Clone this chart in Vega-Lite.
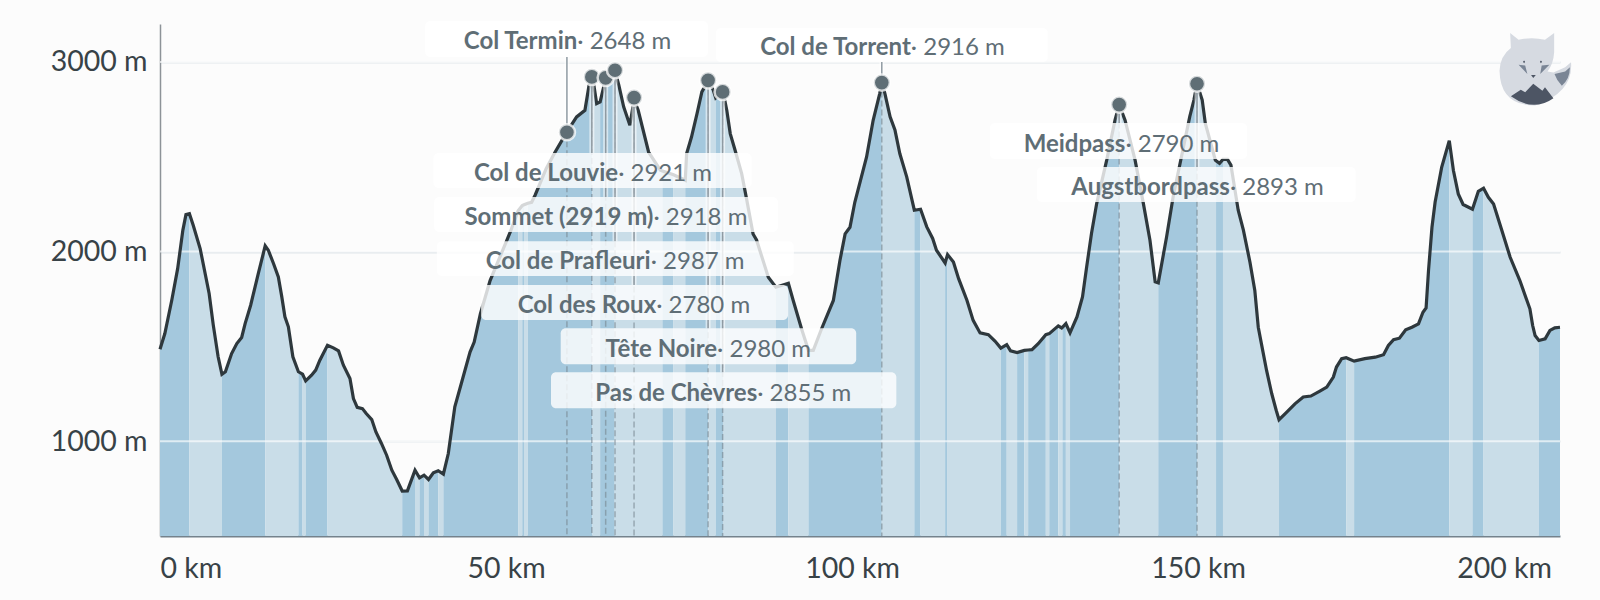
{
  "$schema": "https://vega.github.io/schema/vega-lite/v6.json",
  "width": 1400,
  "height": 512,
  "autosize": "none",
  "padding": {"left": 160, "top": 24, "right": 40, "bottom": 64},
  "background": "#fcfcfc",
  "datasets": {
    "profile": [
      {"km":0,"m":1485,"seg":1,"dir":"up"},{"km":0.7,"m":1568,"seg":1,"dir":"up"},{"km":1.7,"m":1743,"seg":1,"dir":"up"},{"km":2.55,"m":1910,"seg":1,"dir":"up"},{"km":3.3,"m":2112,"seg":1,"dir":"up"},{"km":3.75,"m":2195,"seg":1,"dir":"up"},{"km":4.25,"m":2200,"seg":1,"dir":"up"},
      {"km":4.25,"m":2200,"seg":2,"dir":"down"},{"km":4.8,"m":2139,"seg":2,"dir":"down"},{"km":5.8,"m":2016,"seg":2,"dir":"down"},{"km":7.1,"m":1779,"seg":2,"dir":"down"},{"km":7.7,"m":1612,"seg":2,"dir":"down"},{"km":8.4,"m":1445,"seg":2,"dir":"down"},{"km":8.95,"m":1353,"seg":2,"dir":"down"},
      {"km":8.95,"m":1353,"seg":3,"dir":"up"},{"km":9.45,"m":1366,"seg":3,"dir":"up"},{"km":10.35,"m":1462,"seg":3,"dir":"up"},{"km":11.1,"m":1515,"seg":3,"dir":"up"},{"km":11.8,"m":1547,"seg":3,"dir":"up"},{"km":12.3,"m":1620,"seg":3,"dir":"up"},{"km":13.1,"m":1717,"seg":3,"dir":"up"},{"km":14.2,"m":1884,"seg":3,"dir":"up"},{"km":15.2,"m":2030,"seg":3,"dir":"up"},
      {"km":15.2,"m":2030,"seg":4,"dir":"down"},{"km":15.65,"m":2007,"seg":4,"dir":"down"},{"km":16.4,"m":1937,"seg":4,"dir":"down"},{"km":17.1,"m":1866,"seg":4,"dir":"down"},{"km":17.6,"m":1761,"seg":4,"dir":"down"},{"km":18.05,"m":1656,"seg":4,"dir":"down"},{"km":18.55,"m":1603,"seg":4,"dir":"down"},{"km":19.2,"m":1445,"seg":4,"dir":"down"},{"km":20,"m":1366,"seg":4,"dir":"down"},
      {"km":20,"m":1366,"seg":5,"dir":"up"},{"km":20.6,"m":1353,"seg":5,"dir":"up"},
      {"km":20.6,"m":1353,"seg":6,"dir":"down"},{"km":21.05,"m":1318,"seg":6,"dir":"down"},
      {"km":21.05,"m":1318,"seg":7,"dir":"up"},{"km":21.9,"m":1348,"seg":7,"dir":"up"},{"km":22.5,"m":1375,"seg":7,"dir":"up"},{"km":23.1,"m":1427,"seg":7,"dir":"up"},{"km":24.2,"m":1506,"seg":7,"dir":"up"},
      {"km":24.2,"m":1506,"seg":8,"dir":"down"},{"km":25.05,"m":1492,"seg":8,"dir":"down"},{"km":25.8,"m":1476,"seg":8,"dir":"down"},{"km":26.5,"m":1401,"seg":8,"dir":"down"},{"km":27.45,"m":1331,"seg":8,"dir":"down"},{"km":27.95,"m":1225,"seg":8,"dir":"down"},{"km":28.5,"m":1178,"seg":8,"dir":"down"},{"km":29.25,"m":1172,"seg":8,"dir":"down"},{"km":29.8,"m":1146,"seg":8,"dir":"down"},{"km":30.6,"m":1114,"seg":8,"dir":"down"},{"km":31.2,"m":1049,"seg":8,"dir":"down"},{"km":32,"m":988,"seg":8,"dir":"down"},{"km":32.75,"m":926,"seg":8,"dir":"down"},{"km":33.5,"m":847,"seg":8,"dir":"down"},{"km":34.2,"m":798,"seg":8,"dir":"down"},{"km":35,"m":737,"seg":8,"dir":"down"},
      {"km":35,"m":737,"seg":9,"dir":"up"},{"km":35.75,"m":738,"seg":9,"dir":"up"},{"km":36.85,"m":847,"seg":9,"dir":"up"},
      {"km":36.85,"m":847,"seg":10,"dir":"down"},{"km":37.5,"m":807,"seg":10,"dir":"down"},
      {"km":37.5,"m":807,"seg":11,"dir":"up"},{"km":38.15,"m":821,"seg":11,"dir":"up"},
      {"km":38.15,"m":821,"seg":12,"dir":"down"},{"km":38.8,"m":798,"seg":12,"dir":"down"},
      {"km":38.8,"m":798,"seg":13,"dir":"up"},{"km":39.5,"m":833,"seg":13,"dir":"up"},{"km":40.2,"m":844,"seg":13,"dir":"up"},
      {"km":40.2,"m":844,"seg":14,"dir":"down"},{"km":40.95,"m":826,"seg":14,"dir":"down"},
      {"km":40.95,"m":826,"seg":15,"dir":"up"},{"km":41.66,"m":935,"seg":15,"dir":"up"},{"km":42.6,"m":1181,"seg":15,"dir":"up"},{"km":43.6,"m":1312,"seg":15,"dir":"up"},{"km":44.8,"m":1470,"seg":15,"dir":"up"},{"km":45.4,"m":1523,"seg":15,"dir":"up"},{"km":46.3,"m":1672,"seg":15,"dir":"up"},{"km":47.7,"m":1847,"seg":15,"dir":"up"},{"km":50.1,"m":2058,"seg":15,"dir":"up"},{"km":50.6,"m":2102,"seg":15,"dir":"up"},{"km":51.75,"m":2215,"seg":15,"dir":"up"},
      {"km":51.75,"m":2215,"seg":16,"dir":"down"},{"km":52.35,"m":2243,"seg":16,"dir":"down"},
      {"km":52.35,"m":2243,"seg":17,"dir":"up"},{"km":52.6,"m":2247,"seg":17,"dir":"up"},
      {"km":52.6,"m":2247,"seg":18,"dir":"down"},{"km":53.15,"m":2255,"seg":18,"dir":"down"},
      {"km":53.15,"m":2255,"seg":19,"dir":"up"},{"km":53.7,"m":2260,"seg":19,"dir":"up"},{"km":54.2,"m":2297,"seg":19,"dir":"up"},{"km":55.8,"m":2437,"seg":19,"dir":"up"},{"km":57.1,"m":2525,"seg":19,"dir":"up"},{"km":58.8,"m":2631,"seg":19,"dir":"up"},{"km":60.2,"m":2710,"seg":19,"dir":"up"},{"km":61.4,"m":2745,"seg":19,"dir":"up"},{"km":62,"m":2877,"seg":19,"dir":"up"},{"km":62.5,"m":2925,"seg":19,"dir":"up"},
      {"km":62.5,"m":2925,"seg":20,"dir":"down"},{"km":63.1,"m":2780,"seg":20,"dir":"down"},{"km":63.6,"m":2789,"seg":20,"dir":"down"},
      {"km":63.6,"m":2789,"seg":21,"dir":"up"},{"km":64.4,"m":2912,"seg":21,"dir":"up"},{"km":65,"m":2925,"seg":21,"dir":"up"},{"km":65.7,"m":2958,"seg":21,"dir":"up"},
      {"km":65.7,"m":2958,"seg":22,"dir":"down"},{"km":66.3,"m":2877,"seg":22,"dir":"down"},{"km":67,"m":2763,"seg":22,"dir":"down"},{"km":67.9,"m":2666,"seg":22,"dir":"down"},{"km":68.5,"m":2800,"seg":22,"dir":"down"},{"km":69.1,"m":2745,"seg":22,"dir":"down"},{"km":70.6,"m":2525,"seg":22,"dir":"down"},{"km":72.3,"m":2429,"seg":22,"dir":"down"},{"km":72.6,"m":2425,"seg":22,"dir":"down"},
      {"km":72.6,"m":2425,"seg":23,"dir":"up"},{"km":74.2,"m":2405,"seg":23,"dir":"up"},
      {"km":74.2,"m":2405,"seg":24,"dir":"down"},{"km":75.9,"m":2376,"seg":24,"dir":"down"},
      {"km":75.9,"m":2376,"seg":25,"dir":"up"},{"km":76.1,"m":2517,"seg":25,"dir":"up"},{"km":76.8,"m":2604,"seg":25,"dir":"up"},{"km":77.6,"m":2727,"seg":25,"dir":"up"},{"km":78.3,"m":2842,"seg":25,"dir":"up"},{"km":79.25,"m":2905,"seg":25,"dir":"up"},
      {"km":79.25,"m":2905,"seg":26,"dir":"down"},{"km":79.95,"m":2851,"seg":26,"dir":"down"},{"km":80.3,"m":2810,"seg":26,"dir":"down"},
      {"km":80.3,"m":2810,"seg":27,"dir":"up"},{"km":81.35,"m":2845,"seg":27,"dir":"up"},
      {"km":81.35,"m":2845,"seg":28,"dir":"down"},{"km":81.9,"m":2745,"seg":28,"dir":"down"},{"km":82.4,"m":2622,"seg":28,"dir":"down"},{"km":83.1,"m":2534,"seg":28,"dir":"down"},{"km":84.05,"m":2411,"seg":28,"dir":"down"},{"km":84.8,"m":2270,"seg":28,"dir":"down"},{"km":85.7,"m":2093,"seg":28,"dir":"down"},{"km":86.2,"m":2061,"seg":28,"dir":"down"},{"km":87.9,"m":1865,"seg":28,"dir":"down"},{"km":89,"m":1812,"seg":28,"dir":"down"},
      {"km":89,"m":1812,"seg":29,"dir":"up"},{"km":90.8,"m":1833,"seg":29,"dir":"up"},
      {"km":90.8,"m":1833,"seg":30,"dir":"down"},{"km":91.5,"m":1742,"seg":30,"dir":"down"},{"km":92.7,"m":1593,"seg":30,"dir":"down"},{"km":93.7,"m":1479,"seg":30,"dir":"down"},
      {"km":93.7,"m":1479,"seg":31,"dir":"up"},{"km":94.4,"m":1479,"seg":31,"dir":"up"},{"km":95.6,"m":1593,"seg":31,"dir":"up"},{"km":97.3,"m":1742,"seg":31,"dir":"up"},{"km":98.25,"m":1953,"seg":31,"dir":"up"},{"km":99,"m":2093,"seg":31,"dir":"up"},{"km":99.7,"m":2128,"seg":31,"dir":"up"},{"km":100.4,"m":2260,"seg":31,"dir":"up"},{"km":102.1,"m":2499,"seg":31,"dir":"up"},{"km":103.05,"m":2692,"seg":31,"dir":"up"},{"km":104,"m":2833,"seg":31,"dir":"up"},{"km":104.3,"m":2891,"seg":31,"dir":"up"},
      {"km":104.3,"m":2891,"seg":32,"dir":"down"},{"km":104.75,"m":2833,"seg":32,"dir":"down"},{"km":105.5,"m":2711,"seg":32,"dir":"down"},{"km":106.2,"m":2641,"seg":32,"dir":"down"},{"km":106.9,"m":2517,"seg":32,"dir":"down"},{"km":107.9,"m":2394,"seg":32,"dir":"down"},{"km":109,"m":2218,"seg":32,"dir":"down"},
      {"km":109,"m":2218,"seg":33,"dir":"up"},{"km":109.9,"m":2223,"seg":33,"dir":"up"},
      {"km":109.9,"m":2223,"seg":34,"dir":"down"},{"km":110.8,"m":2130,"seg":34,"dir":"down"},{"km":111.65,"m":2069,"seg":34,"dir":"down"},{"km":112.2,"m":2007,"seg":34,"dir":"down"},{"km":113.45,"m":1940,"seg":34,"dir":"down"},
      {"km":113.45,"m":1940,"seg":35,"dir":"up"},{"km":113.8,"m":1984,"seg":35,"dir":"up"},
      {"km":113.8,"m":1984,"seg":36,"dir":"down"},{"km":114.65,"m":1945,"seg":36,"dir":"down"},{"km":115.4,"m":1857,"seg":36,"dir":"down"},{"km":116.6,"m":1743,"seg":36,"dir":"down"},{"km":117.5,"m":1637,"seg":36,"dir":"down"},{"km":118.5,"m":1571,"seg":36,"dir":"down"},{"km":119.7,"m":1562,"seg":36,"dir":"down"},{"km":120.65,"m":1528,"seg":36,"dir":"down"},{"km":121.5,"m":1491,"seg":36,"dir":"down"},
      {"km":121.5,"m":1491,"seg":37,"dir":"up"},{"km":122.35,"m":1509,"seg":37,"dir":"up"},
      {"km":122.35,"m":1509,"seg":38,"dir":"down"},{"km":122.9,"m":1476,"seg":38,"dir":"down"},{"km":123.85,"m":1467,"seg":38,"dir":"down"},
      {"km":123.85,"m":1467,"seg":39,"dir":"up"},{"km":124.9,"m":1479,"seg":39,"dir":"up"},
      {"km":124.9,"m":1479,"seg":40,"dir":"down"},{"km":125.45,"m":1481,"seg":40,"dir":"down"},
      {"km":125.45,"m":1481,"seg":41,"dir":"up"},{"km":126,"m":1483,"seg":41,"dir":"up"},{"km":126.9,"m":1514,"seg":41,"dir":"up"},{"km":128,"m":1562,"seg":41,"dir":"up"},
      {"km":128,"m":1562,"seg":42,"dir":"down"},{"km":128.5,"m":1567,"seg":42,"dir":"down"},
      {"km":128.5,"m":1567,"seg":43,"dir":"up"},{"km":129.8,"m":1608,"seg":43,"dir":"up"},
      {"km":129.8,"m":1608,"seg":44,"dir":"down"},{"km":130.3,"m":1597,"seg":44,"dir":"down"},{"km":130.4,"m":1600,"seg":44,"dir":"down"},
      {"km":130.4,"m":1600,"seg":45,"dir":"up"},{"km":130.9,"m":1620,"seg":45,"dir":"up"},
      {"km":130.9,"m":1620,"seg":46,"dir":"down"},{"km":131.5,"m":1571,"seg":46,"dir":"down"},
      {"km":131.5,"m":1571,"seg":47,"dir":"up"},{"km":132.5,"m":1655,"seg":47,"dir":"up"},{"km":133.3,"m":1761,"seg":47,"dir":"up"},{"km":133.9,"m":1919,"seg":47,"dir":"up"},{"km":134.6,"m":2095,"seg":47,"dir":"up"},{"km":135.35,"m":2253,"seg":47,"dir":"up"},{"km":136.8,"m":2482,"seg":47,"dir":"up"},{"km":138,"m":2693,"seg":47,"dir":"up"},{"km":138.6,"m":2775,"seg":47,"dir":"up"},
      {"km":138.6,"m":2775,"seg":48,"dir":"down"},{"km":139.45,"m":2693,"seg":48,"dir":"down"},{"km":140.9,"m":2482,"seg":48,"dir":"down"},{"km":142.1,"m":2253,"seg":48,"dir":"down"},{"km":143.05,"m":2060,"seg":48,"dir":"down"},{"km":143.8,"m":1840,"seg":48,"dir":"down"},{"km":144.25,"m":1835,"seg":48,"dir":"down"},
      {"km":144.25,"m":1835,"seg":49,"dir":"up"},{"km":145.45,"m":2077,"seg":49,"dir":"up"},{"km":146.4,"m":2289,"seg":49,"dir":"up"},{"km":147.6,"m":2500,"seg":49,"dir":"up"},{"km":148.8,"m":2711,"seg":49,"dir":"up"},{"km":149.4,"m":2799,"seg":49,"dir":"up"},{"km":149.85,"m":2885,"seg":49,"dir":"up"},
      {"km":149.85,"m":2885,"seg":50,"dir":"down"},{"km":150.6,"m":2799,"seg":50,"dir":"down"},{"km":151.05,"m":2676,"seg":50,"dir":"down"},{"km":152.5,"m":2482,"seg":50,"dir":"down"},{"km":152.6,"m":2478,"seg":50,"dir":"down"},
      {"km":152.6,"m":2478,"seg":51,"dir":"up"},{"km":153.1,"m":2465,"seg":51,"dir":"up"},{"km":153.6,"m":2486,"seg":51,"dir":"up"},
      {"km":153.6,"m":2486,"seg":52,"dir":"down"},{"km":154.25,"m":2486,"seg":52,"dir":"down"},{"km":154.75,"m":2456,"seg":52,"dir":"down"},{"km":155.8,"m":2218,"seg":52,"dir":"down"},{"km":156.55,"m":2113,"seg":52,"dir":"down"},{"km":157.5,"m":1944,"seg":52,"dir":"down"},{"km":158.2,"m":1795,"seg":52,"dir":"down"},{"km":158.7,"m":1601,"seg":52,"dir":"down"},{"km":159.2,"m":1505,"seg":52,"dir":"down"},{"km":159.9,"m":1373,"seg":52,"dir":"down"},{"km":160.65,"m":1250,"seg":52,"dir":"down"},{"km":161.3,"m":1162,"seg":52,"dir":"down"},{"km":161.7,"m":1113,"seg":52,"dir":"down"},
      {"km":161.7,"m":1113,"seg":53,"dir":"up"},{"km":162.6,"m":1145,"seg":53,"dir":"up"},{"km":164,"m":1197,"seg":53,"dir":"up"},{"km":165.2,"m":1233,"seg":53,"dir":"up"},{"km":166.3,"m":1238,"seg":53,"dir":"up"},{"km":167.6,"m":1264,"seg":53,"dir":"up"},{"km":168.6,"m":1285,"seg":53,"dir":"up"},{"km":169.55,"m":1338,"seg":53,"dir":"up"},{"km":170,"m":1391,"seg":53,"dir":"up"},{"km":170.75,"m":1435,"seg":53,"dir":"up"},{"km":171.4,"m":1440,"seg":53,"dir":"up"},
      {"km":171.4,"m":1440,"seg":54,"dir":"down"},{"km":172.55,"m":1422,"seg":54,"dir":"down"},
      {"km":172.55,"m":1422,"seg":55,"dir":"up"},{"km":174.1,"m":1435,"seg":55,"dir":"up"},{"km":175.6,"m":1443,"seg":55,"dir":"up"},{"km":176.8,"m":1456,"seg":55,"dir":"up"},{"km":177.5,"m":1505,"seg":55,"dir":"up"},{"km":178.25,"m":1535,"seg":55,"dir":"up"},{"km":179.1,"m":1543,"seg":55,"dir":"up"},{"km":180,"m":1587,"seg":55,"dir":"up"},{"km":180.9,"m":1601,"seg":55,"dir":"up"},{"km":181.85,"m":1619,"seg":55,"dir":"up"},{"km":182.5,"m":1680,"seg":55,"dir":"up"},{"km":182.95,"m":1703,"seg":55,"dir":"up"},{"km":183.3,"m":1900,"seg":55,"dir":"up"},{"km":183.8,"m":2128,"seg":55,"dir":"up"},{"km":184.25,"m":2260,"seg":55,"dir":"up"},{"km":185.2,"m":2444,"seg":55,"dir":"up"},{"km":186.3,"m":2585,"seg":55,"dir":"up"},
      {"km":186.3,"m":2585,"seg":56,"dir":"down"},{"km":186.9,"m":2427,"seg":56,"dir":"down"},{"km":187.6,"m":2304,"seg":56,"dir":"down"},{"km":188.3,"m":2248,"seg":56,"dir":"down"},{"km":189.65,"m":2223,"seg":56,"dir":"down"},
      {"km":189.65,"m":2223,"seg":57,"dir":"up"},{"km":190.5,"m":2318,"seg":57,"dir":"up"},{"km":191.25,"m":2334,"seg":57,"dir":"up"},
      {"km":191.25,"m":2334,"seg":58,"dir":"down"},{"km":191.95,"m":2286,"seg":58,"dir":"down"},{"km":192.7,"m":2251,"seg":58,"dir":"down"},{"km":193.9,"m":2111,"seg":58,"dir":"down"},{"km":195.1,"m":1970,"seg":58,"dir":"down"},{"km":196.5,"m":1847,"seg":58,"dir":"down"},{"km":197.95,"m":1698,"seg":58,"dir":"down"},{"km":198.35,"m":1610,"seg":58,"dir":"down"},{"km":198.7,"m":1557,"seg":58,"dir":"down"},{"km":199.25,"m":1531,"seg":58,"dir":"down"},
      {"km":199.25,"m":1531,"seg":59,"dir":"up"},{"km":200.15,"m":1540,"seg":59,"dir":"up"},{"km":200.85,"m":1584,"seg":59,"dir":"up"},{"km":201.55,"m":1598,"seg":59,"dir":"up"},{"km":202.3,"m":1601,"seg":59,"dir":"up"}
    ],
    "passes": [
      {"km":58.8,"m":2629,"name":"Col Termin","value":"· 2648 m","edge":3026,"from":38.3,"to":79.2,"top":3216,"bottom":3026,"label_km":60.3,"label_m":3121},
      {"km":62.4,"m":2921,"name":"Col de Louvie","value":"· 2921 m","edge":2520,"from":39.5,"to":85.5,"top":2520,"bottom":2335,"label_km":66.2,"label_m":2427},
      {"km":64.4,"m":2916,"name":"Sommet (2919 m)","value":"· 2918 m","edge":2288,"from":39.6,"to":89.3,"top":2288,"bottom":2103,"label_km":71.3,"label_m":2195},
      {"km":65.75,"m":2956,"name":"Col de Prafleuri","value":"· 2987 m","edge":2055,"from":40,"to":91.6,"top":2055,"bottom":1871,"label_km":70.9,"label_m":1963},
      {"km":68.5,"m":2812,"name":"Col des Roux","value":"· 2780 m","edge":1823,"from":46.4,"to":90.75,"top":1823,"bottom":1639,"label_km":71.7,"label_m":1731},
      {"km":79.2,"m":2903,"name":"Tête Noire","value":"· 2980 m","edge":1596,"from":57.9,"to":100.6,"top":1596,"bottom":1406,"label_km":80.5,"label_m":1501},
      {"km":81.3,"m":2842,"name":"Pas de Chèvres","value":"· 2855 m","edge":1364,"from":56.5,"to":106.4,"top":1364,"bottom":1174,"label_km":86.3,"label_m":1269},
      {"km":104.3,"m":2891,"name":"Col de Torrent","value":"· 2916 m","edge":3000,"from":80.3,"to":128.3,"top":3179,"bottom":3000,"label_km":108.5,"label_m":3090},
      {"km":138.6,"m":2775,"name":"Meidpass","value":"· 2790 m","edge":2678,"from":119.9,"to":157.1,"top":2678,"bottom":2488,"label_km":139.5,"label_m":2583},
      {"km":149.85,"m":2885,"name":"Augstbordpass","value":"· 2893 m","edge":2446,"from":126.7,"to":172.8,"top":2446,"bottom":2261,"label_km":154.6,"label_m":2354}
    ],
    "gridlines": [{"m":1000},{"m":2000},{"m":3000}],
    "logo": [{"km":198.7,"m":2954}]
  },
  "encoding": {
    "x": {
      "field": "km",
      "type": "quantitative",
      "scale": {"domain": [0, 202.3], "nice": false},
      "axis": {
        "title": null,
        "values": [0, 50, 100, 150, 200],
        "labelExpr": "datum.value + ' km'",
        "labelFlush": true,
        "labelOffset": {"condition": {"test": "datum.value == 200", "value": -40}, "value": 0},
        "labelFont": "Lato",
        "labelFontSize": 28.5,
        "labelColor": "#384247",
        "labelPadding": 18,
        "ticks": false,
        "grid": false,
        "domainColor": "#74828c",
        "domainWidth": 2
      }
    },
    "y": {
      "field": "m",
      "type": "quantitative",
      "scale": {"domain": [500, 3200], "nice": false, "zero": false},
      "axis": {
        "title": null,
        "values": [1000, 2000, 3000],
        "labelExpr": "datum.value + ' m'",
        "labelFont": "Lato",
        "labelFontSize": 28.5,
        "labelColor": "#384247",
        "labelPadding": 13,
        "ticks": false,
        "grid": true,
        "gridColor": "#dfe5e9",
        "gridWidth": 2,
        "domainColor": "#8d9398",
        "domainWidth": 1.5
      }
    }
  },
  "layer": [
    {
      "data": {"name": "profile"},
      "mark": {"type": "area"},
      "encoding": {
        "y": {"field": "m", "type": "quantitative", "stack": null, "scale": {"domain": [500, 3200], "nice": false, "zero": false}},
        "detail": {"field": "seg"},
        "color": {"field": "dir", "type": "nominal", "legend": null, "scale": {"domain": ["up", "down"], "range": ["#a4c8dd", "#c9dde8"]}}
      }
    },
    {
      "data": {"name": "gridlines"},
      "mark": {"type": "rule", "color": "#ffffff", "strokeWidth": 2, "opacity": 0.65},
      "encoding": {"x": {"value": 0}, "x2": {"value": 1400}}
    },
    {
      "data": {"name": "passes"},
      "mark": {"type": "rule", "color": "#77868f", "strokeWidth": 1.5, "strokeDash": [6, 3], "opacity": 0.6},
      "encoding": {"y2": {"datum": 500}}
    },
    {
      "data": {"name": "profile"},
      "mark": {"type": "line", "color": "#2e383d", "strokeWidth": 3.2},
      "encoding": {}
    },
    {
      "data": {"name": "passes"},
      "mark": {"type": "rule", "color": "#ffffff", "strokeWidth": 5, "opacity": 0.55},
      "encoding": {"y2": {"field": "edge"}}
    },
    {
      "data": {"name": "passes"},
      "mark": {"type": "rule", "color": "#8f9aa2", "strokeWidth": 1.5},
      "encoding": {"y2": {"field": "edge"}}
    },
    {
      "data": {"name": "passes"},
      "mark": {"type": "point", "shape": "circle", "filled": true, "opacity": 1, "fill": "#5f6e75", "stroke": "#ffffff", "strokeOpacity": 0.75, "strokeWidth": 2.5, "size": 260},
      "encoding": {}
    },
    {
      "data": {"name": "passes"},
      "mark": {"type": "rect", "color": "#ffffff", "opacity": 0.8, "cornerRadius": 5},
      "encoding": {
        "x": {"field": "from", "type": "quantitative", "scale": {"domain": [0, 202.3], "nice": false}},
        "x2": {"field": "to"},
        "y": {"field": "top", "type": "quantitative", "scale": {"domain": [500, 3200], "nice": false, "zero": false}},
        "y2": {"field": "bottom"}
      }
    },
    {
      "data": {"name": "passes"},
      "mark": {"type": "text", "align": "right", "baseline": "middle", "dy": 3.5, "font": "Lato", "fontSize": 24, "fontWeight": "bold", "color": "#5f6e76"},
      "encoding": {
        "x": {"field": "label_km", "type": "quantitative", "scale": {"domain": [0, 202.3], "nice": false}},
        "y": {"field": "label_m", "type": "quantitative", "scale": {"domain": [500, 3200], "nice": false, "zero": false}},
        "text": {"field": "name"}
      }
    },
    {
      "data": {"name": "passes"},
      "mark": {"type": "text", "align": "left", "baseline": "middle", "dy": 3.5, "font": "Lato", "fontSize": 24, "color": "#5f6e76"},
      "encoding": {
        "x": {"field": "label_km", "type": "quantitative", "scale": {"domain": [0, 202.3], "nice": false}},
        "y": {"field": "label_m", "type": "quantitative", "scale": {"domain": [500, 3200], "nice": false, "zero": false}},
        "text": {"field": "value"}
      }
    },
    {
      "data": {"name": "logo"},
      "mark": {"type": "point", "filled": true, "opacity": 1, "color": "#d6dae1", "size": 5378, "shape": "M-.68,-1.03 L-.45,-.84 Q-.09,-.93 .27,-.84 L.52,-1.03 L.52,-.5 Q.5,-.18 .34,.02 L.5,.05 L.82,-.09 L.98,-.23 Q1.05,.59 0,.95 Q-.95,.95 -.97,0 Q-.95,-.41 -.66,-.62 Z"},
      "encoding": {}
    },
    {
      "data": {"name": "logo"},
      "mark": {"type": "point", "filled": true, "opacity": 1, "color": "#7a8595", "size": 5378, "shape": "M.53,.09 L.82,.02 L.95,-.09 Q.95,.23 .73,.41 Q.59,.27 .53,.09 Z M-.45,-.16 L-.27,-.14 L-.21,.09 Z M.14,.09 L.18,-.14 L.39,-.16 Z"},
      "encoding": {}
    },
    {
      "data": {"name": "logo"},
      "mark": {"type": "point", "filled": true, "opacity": 1, "color": "#4d5564", "size": 5378, "shape": "M-.66,.7 L-.39,.52 L-.27,.59 L-.05,.36 L.2,.55 L.27,.45 L.5,.75 Q-.05,1.14 -.66,.7 Z M-.3,-.28 L-.27,-.24 L-.3,-.2 L-.33,-.24 Z M.16,-.28 L.19,-.24 L.16,-.2 L.13,-.24 Z M-.11,.12 L.02,.12 L-.05,.2 Z"},
      "encoding": {}
    }
  ],
  "config": {"view": {"stroke": null}}
}
